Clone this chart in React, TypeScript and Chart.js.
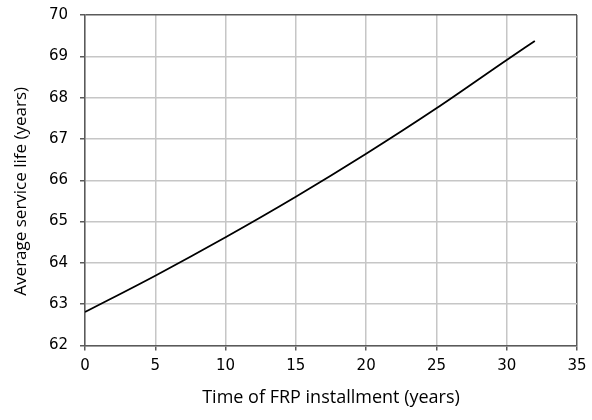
import React, { useEffect, useRef } from "react";
import { Chart, registerables } from "chart.js";

Chart.register(...registerables);

const installTime = [0, 5, 10, 15, 20, 25, 30, 32];
const serviceLife = [62.81, 63.69, 64.62, 65.6, 66.64, 67.74, 68.91, 69.37];
const xTitle = "Time of FRP installment (years)";
const yTitle = "Average service life (years)";

const GRID = "#c6c6c6";
const AXIS = "#5a5a5a";
const FONT = "'Open Sans', 'Noto Sans', sans-serif";
const TICK_FONT = "'DejaVu Sans', sans-serif";

export default function App() {
  const ref = useRef<HTMLCanvasElement | null>(null);
  useEffect(() => {
    if (!ref.current) return;
    const chart = new Chart(ref.current, {
      type: "line",
      data: {
        datasets: [
          {
            data: installTime.map((x, i) => ({ x, y: serviceLife[i] })),
            borderColor: "#000000",
            borderWidth: 1.8,
            pointRadius: 0,
            cubicInterpolationMode: "monotone",
            fill: false,
          },
        ],
      },
      options: {
        animation: false,
        responsive: false,
        maintainAspectRatio: false,
        layout: { padding: { top: 15, right: 15, left: 0, bottom: 0 } },
        plugins: { legend: { display: false }, tooltip: { enabled: false } },
        scales: {
          x: {
            type: "linear",
            min: 0,
            max: 35,
            ticks: { stepSize: 5, color: "#000", font: { family: TICK_FONT, size: 15 }, padding: 7 },
            grid: {
              color: (ctx: any) => (ctx.tick && ctx.tick.value === 35 ? AXIS : GRID),
              lineWidth: 1.5,
              tickColor: AXIS,
              tickLength: 5,
            },
            border: { color: AXIS, width: 1.5 },
            title: { display: true, text: xTitle, color: "#000", font: { family: FONT, size: 18 }, padding: { top: 0, bottom: 11 } },
            afterFit: (s: any) => {
              s.height = 74.5;
              s.paddingLeft = 0;
              s.paddingRight = 0;
            },
          },
          y: {
            min: 62,
            max: 70,
            ticks: { stepSize: 1, color: "#000", font: { family: TICK_FONT, size: 15 }, padding: 12 },
            grid: {
              color: (ctx: any) => (ctx.tick && ctx.tick.value === 70 ? AXIS : GRID),
              lineWidth: 1.5,
              tickColor: AXIS,
              tickLength: 5,
            },
            border: { color: AXIS, width: 1.5 },
            title: { display: true, text: yTitle + "     ", color: "#000", font: { family: FONT, size: 17 }, padding: { top: 11, bottom: 0 } },
            afterFit: (s: any) => {
              s.width = 85;
              s.paddingTop = 0;
              s.paddingBottom = 0;
            },
          },
        },
      },
    });
    return () => chart.destroy();
  }, []);
  return (
    <div style={{ position: "absolute", left: 0, top: 0, width: 592, height: 420, background: "#fff" }}>
      <canvas ref={ref} width={592} height={420} style={{ width: 592, height: 420 }} />
    </div>
  );
}
